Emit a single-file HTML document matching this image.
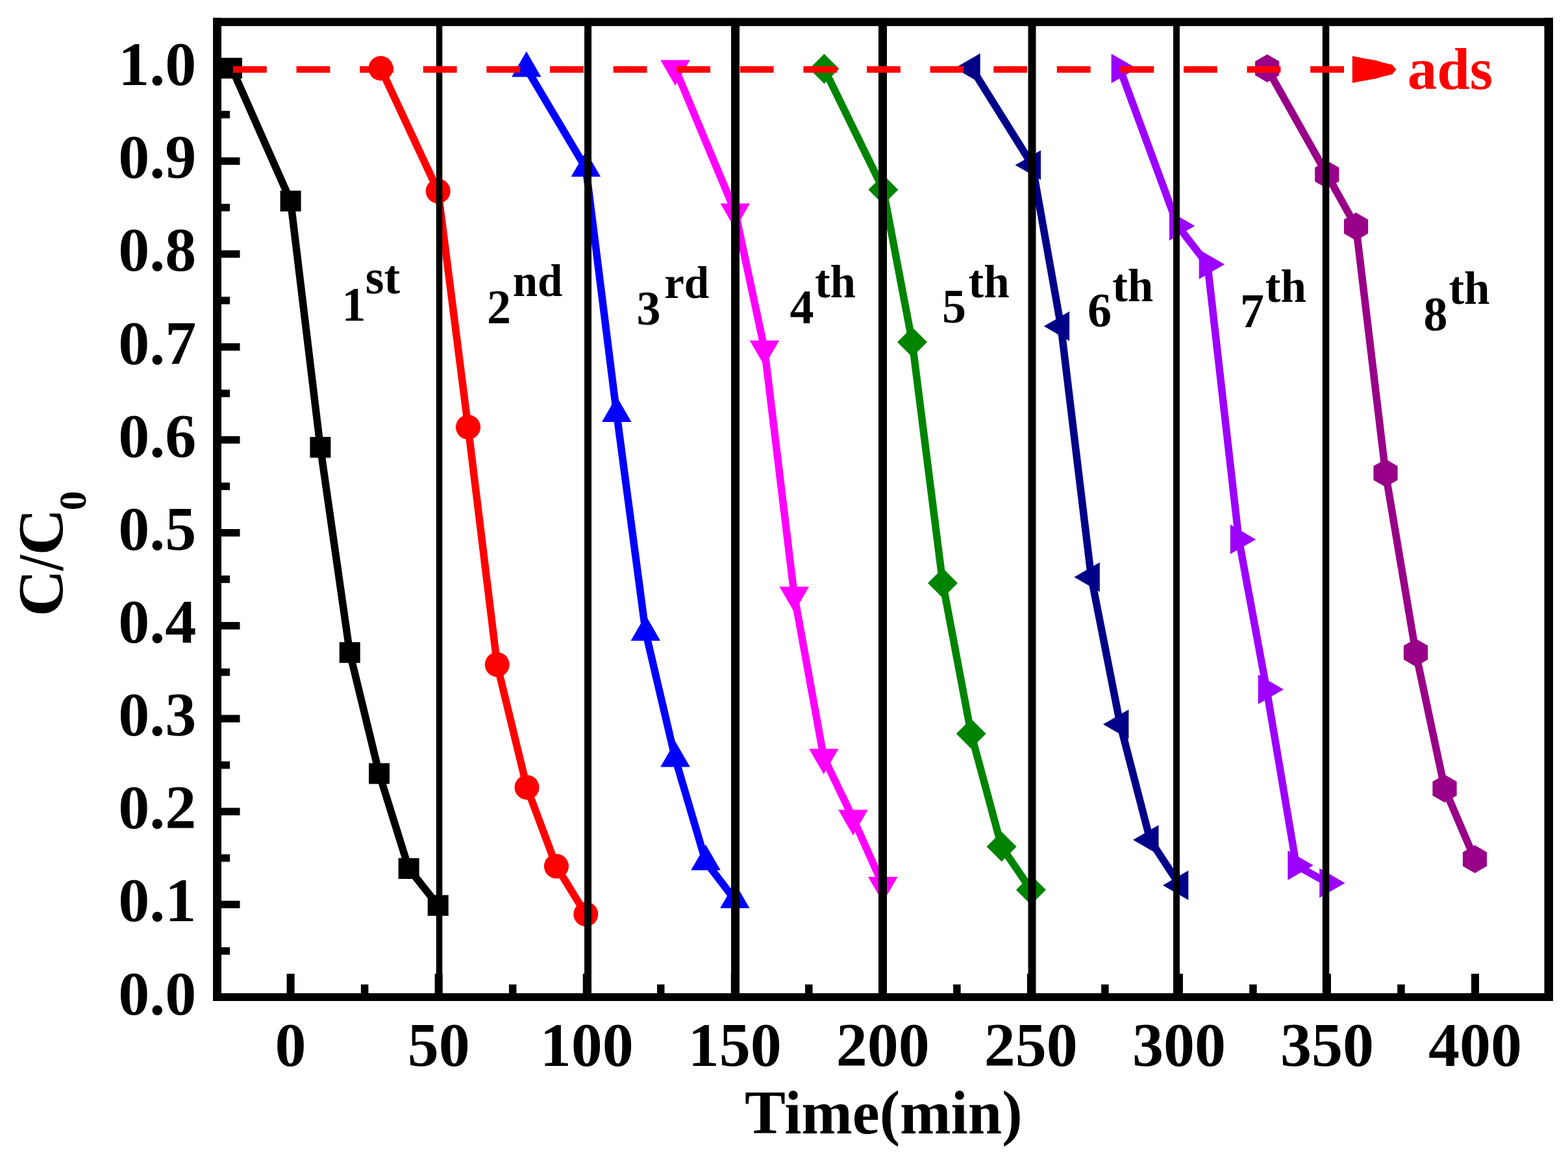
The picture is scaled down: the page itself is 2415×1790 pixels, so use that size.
<!DOCTYPE html>
<html><head><meta charset="utf-8"><title>C/C0 vs Time</title>
<style>html,body{margin:0;padding:0;background:#fff;}body{width:2415px;height:1790px;overflow:hidden;}svg{display:block;}</style>
</head><body>
<svg width="2415" height="1790" viewBox="0 0 2415 1790">
<rect width="2415" height="1790" fill="#fff"/>
<g fill="#000">
<rect x="328" y="27.6" width="13" height="1514.4"/>
<rect x="2378.5" y="27.6" width="13.5" height="1514.4"/>
<rect x="328" y="27.6" width="2064" height="12.6"/>
<rect x="328" y="1530" width="2064" height="12"/>
<rect x="341" y="1387.60" width="28.5" height="11.5"/>
<rect x="341" y="1244.45" width="28.5" height="11.5"/>
<rect x="341" y="1101.30" width="28.5" height="11.5"/>
<rect x="341" y="958.15" width="28.5" height="11.5"/>
<rect x="341" y="815.00" width="28.5" height="11.5"/>
<rect x="341" y="671.85" width="28.5" height="11.5"/>
<rect x="341" y="528.70" width="28.5" height="11.5"/>
<rect x="341" y="385.55" width="28.5" height="11.5"/>
<rect x="341" y="242.40" width="28.5" height="11.5"/>
<rect x="341" y="99.25" width="28.5" height="11.5"/>
<rect x="341" y="1459.17" width="13" height="11.5"/>
<rect x="341" y="1316.03" width="13" height="11.5"/>
<rect x="341" y="1172.88" width="13" height="11.5"/>
<rect x="341" y="1029.72" width="13" height="11.5"/>
<rect x="341" y="886.57" width="13" height="11.5"/>
<rect x="341" y="743.42" width="13" height="11.5"/>
<rect x="341" y="600.27" width="13" height="11.5"/>
<rect x="341" y="457.12" width="13" height="11.5"/>
<rect x="341" y="313.97" width="13" height="11.5"/>
<rect x="341" y="170.82" width="13" height="11.5"/>
<rect x="441.60" y="1500" width="12" height="30"/>
<rect x="669.65" y="1500" width="12" height="30"/>
<rect x="897.70" y="1500" width="12" height="30"/>
<rect x="1125.75" y="1500" width="12" height="30"/>
<rect x="1353.80" y="1500" width="12" height="30"/>
<rect x="1581.85" y="1500" width="12" height="30"/>
<rect x="1809.90" y="1500" width="12" height="30"/>
<rect x="2037.95" y="1500" width="12" height="30"/>
<rect x="2266.00" y="1500" width="12" height="30"/>
<rect x="555.88" y="1516.5" width="11.5" height="14"/>
<rect x="783.92" y="1516.5" width="11.5" height="14"/>
<rect x="1011.98" y="1516.5" width="11.5" height="14"/>
<rect x="1240.03" y="1516.5" width="11.5" height="14"/>
<rect x="1468.07" y="1516.5" width="11.5" height="14"/>
<rect x="1696.12" y="1516.5" width="11.5" height="14"/>
<rect x="1924.18" y="1516.5" width="11.5" height="14"/>
<rect x="2152.22" y="1516.5" width="11.5" height="14"/>
</g>
<polyline points="357.0,105.0 447.6,309.7 493.4,689.1 538.7,1005.2 584.0,1191.6 629.6,1337.9 674.7,1394.8" fill="none" stroke="#000000" stroke-width="11.5" stroke-linejoin="round"/>
<rect x="341.0" y="89.0" width="32" height="32" fill="#000000"/>
<rect x="431.6" y="293.7" width="32" height="32" fill="#000000"/>
<rect x="477.4" y="673.1" width="32" height="32" fill="#000000"/>
<rect x="522.7" y="989.2" width="32" height="32" fill="#000000"/>
<rect x="568.0" y="1175.6" width="32" height="32" fill="#000000"/>
<rect x="613.6" y="1321.9" width="32" height="32" fill="#000000"/>
<rect x="658.7" y="1378.8" width="32" height="32" fill="#000000"/>
<polyline points="586.5,105.3 674.7,294.4 721.0,658.0 765.7,1023.8 811.5,1212.9 856.9,1334.4 902.3,1408.2" fill="none" stroke="#FF0000" stroke-width="11.5" stroke-linejoin="round"/>
<circle cx="586.5" cy="105.3" r="19" fill="#FF0000"/>
<circle cx="674.7" cy="294.4" r="19" fill="#FF0000"/>
<circle cx="721.0" cy="658.0" r="19" fill="#FF0000"/>
<circle cx="765.7" cy="1023.8" r="19" fill="#FF0000"/>
<circle cx="811.5" cy="1212.9" r="19" fill="#FF0000"/>
<circle cx="856.9" cy="1334.4" r="19" fill="#FF0000"/>
<circle cx="902.3" cy="1408.2" r="19" fill="#FF0000"/>
<polyline points="810.8,105.3 902.4,259.2 949.7,636.8 994.4,973.8 1040.0,1168.3 1087.0,1327.5 1131.8,1386.0" fill="none" stroke="#0000FF" stroke-width="11.5" stroke-linejoin="round"/>
<polygon points="810.8,79.0 833.5,118.4 788.0,118.4" fill="#0000FF"/>
<polygon points="902.4,232.9 925.1,272.3 879.6,272.3" fill="#0000FF"/>
<polygon points="949.7,610.5 972.5,649.9 927.0,649.9" fill="#0000FF"/>
<polygon points="994.4,947.5 1017.1,986.9 971.6,986.9" fill="#0000FF"/>
<polygon points="1040.0,1142.0 1062.8,1181.4 1017.2,1181.4" fill="#0000FF"/>
<polygon points="1087.0,1301.2 1109.8,1340.6 1064.2,1340.6" fill="#0000FF"/>
<polygon points="1131.8,1359.7 1154.5,1399.1 1109.0,1399.1" fill="#0000FF"/>
<polyline points="1040.0,105.6 1132.3,326.5 1177.4,537.5 1223.3,916.9 1268.7,1166.5 1313.9,1260.7 1359.8,1363.8" fill="none" stroke="#FF00FF" stroke-width="11.5" stroke-linejoin="round"/>
<polygon points="1040.0,131.9 1062.8,92.5 1017.2,92.5" fill="#FF00FF"/>
<polygon points="1132.3,352.8 1155.0,313.4 1109.5,313.4" fill="#FF00FF"/>
<polygon points="1177.4,563.8 1200.2,524.4 1154.7,524.4" fill="#FF00FF"/>
<polygon points="1223.3,943.2 1246.0,903.8 1200.5,903.8" fill="#FF00FF"/>
<polygon points="1268.7,1192.8 1291.5,1153.4 1246.0,1153.4" fill="#FF00FF"/>
<polygon points="1313.9,1287.0 1336.7,1247.6 1291.2,1247.6" fill="#FF00FF"/>
<polygon points="1359.8,1390.1 1382.5,1350.7 1337.0,1350.7" fill="#FF00FF"/>
<polyline points="1269.5,106.0 1360.4,292.2 1405.0,527.0 1452.0,898.3 1495.7,1130.2 1542.6,1304.2 1587.9,1370.8" fill="none" stroke="#008400" stroke-width="11.5" stroke-linejoin="round"/>
<polygon points="1269.5,83.0 1292.5,106.0 1269.5,129.0 1246.5,106.0" fill="#008400"/>
<polygon points="1360.4,269.2 1383.4,292.2 1360.4,315.2 1337.4,292.2" fill="#008400"/>
<polygon points="1405.0,504.0 1428.0,527.0 1405.0,550.0 1382.0,527.0" fill="#008400"/>
<polygon points="1452.0,875.3 1475.0,898.3 1452.0,921.3 1429.0,898.3" fill="#008400"/>
<polygon points="1495.7,1107.2 1518.7,1130.2 1495.7,1153.2 1472.7,1130.2" fill="#008400"/>
<polygon points="1542.6,1281.2 1565.6,1304.2 1542.6,1327.2 1519.6,1304.2" fill="#008400"/>
<polygon points="1587.9,1347.8 1610.9,1370.8 1587.9,1393.8 1564.9,1370.8" fill="#008400"/>
<polyline points="1496.6,105.0 1589.9,254.3 1634.0,502.5 1680.7,889.0 1725.3,1115.8 1771.4,1293.8 1817.2,1363.8" fill="none" stroke="#000088" stroke-width="11.5" stroke-linejoin="round"/>
<polygon points="1470.3,105.0 1509.7,82.2 1509.7,127.8" fill="#000088"/>
<polygon points="1563.6,254.3 1603.0,231.6 1603.0,277.1" fill="#000088"/>
<polygon points="1607.7,502.5 1647.1,479.8 1647.1,525.2" fill="#000088"/>
<polygon points="1654.4,889.0 1693.8,866.2 1693.8,911.8" fill="#000088"/>
<polygon points="1699.0,1115.8 1738.4,1093.0 1738.4,1138.5" fill="#000088"/>
<polygon points="1745.1,1293.8 1784.5,1271.0 1784.5,1316.5" fill="#000088"/>
<polygon points="1790.9,1363.8 1830.3,1341.0 1830.3,1386.5" fill="#000088"/>
<polyline points="1724.7,105.4 1814.0,348.0 1859.8,407.2 1908.0,830.9 1950.8,1062.0 1996.5,1333.0 2045.3,1360.3" fill="none" stroke="#9C00FF" stroke-width="11.5" stroke-linejoin="round"/>
<polygon points="1751.0,105.4 1711.6,82.7 1711.6,128.2" fill="#9C00FF"/>
<polygon points="1840.3,348.0 1800.9,325.2 1800.9,370.8" fill="#9C00FF"/>
<polygon points="1886.1,407.2 1846.7,384.4 1846.7,429.9" fill="#9C00FF"/>
<polygon points="1934.3,830.9 1894.9,808.1 1894.9,853.6" fill="#9C00FF"/>
<polygon points="1977.1,1062.0 1937.7,1039.2 1937.7,1084.8" fill="#9C00FF"/>
<polygon points="2022.8,1333.0 1983.4,1310.2 1983.4,1355.8" fill="#9C00FF"/>
<polygon points="2071.6,1360.3 2032.2,1337.5 2032.2,1383.0" fill="#9C00FF"/>
<polyline points="1951.7,105.3 2043.8,268.9 2088.5,349.0 2134.0,728.7 2180.5,1005.4 2225.0,1214.7 2271.5,1323.5" fill="none" stroke="#990088" stroke-width="11.5" stroke-linejoin="round"/>
<polygon points="1951.7,83.8 1933.1,94.5 1933.1,116.0 1951.7,126.8 1970.3,116.1 1970.3,94.5" fill="#990088"/>
<polygon points="2043.8,247.4 2025.2,258.1 2025.2,279.6 2043.8,290.4 2062.4,279.6 2062.4,258.1" fill="#990088"/>
<polygon points="2088.5,327.5 2069.9,338.2 2069.9,359.8 2088.5,370.5 2107.1,359.8 2107.1,338.2" fill="#990088"/>
<polygon points="2134.0,707.2 2115.4,718.0 2115.4,739.5 2134.0,750.2 2152.6,739.5 2152.6,718.0" fill="#990088"/>
<polygon points="2180.5,983.9 2161.9,994.6 2161.9,1016.1 2180.5,1026.9 2199.1,1016.1 2199.1,994.6" fill="#990088"/>
<polygon points="2225.0,1193.2 2206.4,1204.0 2206.4,1225.5 2225.0,1236.2 2243.6,1225.5 2243.6,1204.0" fill="#990088"/>
<polygon points="2271.5,1302.0 2252.9,1312.8 2252.9,1334.2 2271.5,1345.0 2290.1,1334.2 2290.1,1312.8" fill="#990088"/>
<g fill="#000">
<rect x="671.8" y="40" width="9.5" height="1490"/>
<rect x="900.0" y="40" width="11" height="1490"/>
<rect x="1126.0" y="40" width="13" height="1490"/>
<rect x="1353.0" y="40" width="13" height="1490"/>
<rect x="1583.5" y="40" width="12" height="1490"/>
<rect x="1807.0" y="40" width="10" height="1490"/>
<rect x="2036.8" y="40" width="10.5" height="1490"/>
</g>
<line x1="359" y1="107" x2="2070" y2="107" stroke="#FF0000" stroke-width="10" stroke-dasharray="51.8 45.8"/>
<polygon points="2082.8,86.2 2102.7,90.3 2118.8,93 2129.6,96.3 2144.4,99.7 2150.5,107.1 2144.4,114.5 2129.6,117.9 2118.8,121.2 2102.7,123.9 2082.8,127.8" fill="#FF0000"/>
<g font-family="'Liberation Serif', 'Times New Roman', serif" font-weight="bold" font-size="96" fill="#000">
<text x="302.2" y="1562.5" text-anchor="end">0.0</text>
<text x="302.2" y="1419.3" text-anchor="end">0.1</text>
<text x="302.2" y="1276.2" text-anchor="end">0.2</text>
<text x="302.2" y="1133.0" text-anchor="end">0.3</text>
<text x="302.2" y="989.9" text-anchor="end">0.4</text>
<text x="302.2" y="846.8" text-anchor="end">0.5</text>
<text x="302.2" y="703.6" text-anchor="end">0.6</text>
<text x="302.2" y="560.5" text-anchor="end">0.7</text>
<text x="302.2" y="417.3" text-anchor="end">0.8</text>
<text x="302.2" y="274.1" text-anchor="end">0.9</text>
<text x="302.2" y="131.0" text-anchor="end">1.0</text>
<text x="447.6" y="1642" text-anchor="middle">0</text>
<text x="675.7" y="1642" text-anchor="middle">50</text>
<text x="903.7" y="1642" text-anchor="middle">100</text>
<text x="1131.8" y="1642" text-anchor="middle">150</text>
<text x="1359.8" y="1642" text-anchor="middle">200</text>
<text x="1587.8" y="1642" text-anchor="middle">250</text>
<text x="1815.9" y="1642" text-anchor="middle">300</text>
<text x="2043.9" y="1642" text-anchor="middle">350</text>
<text x="2272.0" y="1642" text-anchor="middle">400</text>
</g>
<text font-family="'Liberation Serif', 'Times New Roman', serif" font-weight="bold" font-size="95" x="1147" y="1746" textLength="427.6" lengthAdjust="spacingAndGlyphs">Time(min)</text>
<g transform="rotate(-90)" font-family="'Liberation Serif', 'Times New Roman', serif" font-weight="bold">
<text font-size="100" x="-949.7" y="95.6">C</text>
<text font-size="100" transform="translate(-879,95.6) scale(0.86,1)" x="0" y="0">/</text>
<text font-size="100" x="-855.5" y="95.6">C</text>
<text font-size="60" x="-786.3" y="132.3">0</text>
</g>
<g font-family="'Liberation Serif', 'Times New Roman', serif" font-weight="bold" font-size="74" fill="#000">
<text x="526.4" y="494">1</text><text x="562.8" y="452" font-size="74">st</text>
<text x="749.9" y="497.7">2</text><text x="789.75" y="455.5" font-size="69">nd</text>
<text x="980.5" y="499.7">3</text><text x="1023.15" y="459" font-size="69">rd</text>
<text x="1216.5" y="497.7">4</text><text x="1254.96" y="458.2" font-size="71">th</text>
<text x="1451.1" y="497">5</text><text x="1491.56" y="458.2" font-size="71">th</text>
<text x="1675" y="503.3">6</text><text x="1713.16" y="463.6" font-size="71">th</text>
<text x="1909.9" y="504">7</text><text x="1948.86" y="464.5" font-size="71">th</text>
<text x="2192.5" y="508.6">8</text><text x="2231.46" y="468" font-size="71">th</text>
</g>
<text font-family="'Liberation Serif', 'Times New Roman', serif" font-weight="bold" font-size="91" fill="#FF0000" x="2167.7" y="137">ads</text>
</svg>
</body></html>
